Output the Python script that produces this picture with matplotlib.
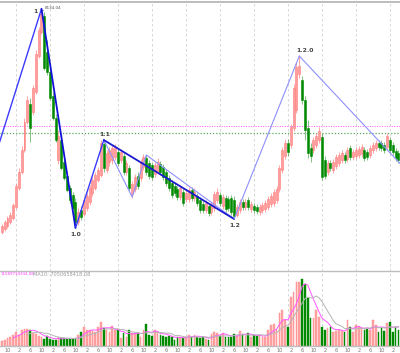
import numpy as np
import pandas as pd
import matplotlib
matplotlib.use("Agg")
import matplotlib.pyplot as plt

# =========================================================
# DONNÉES (mensuelles)
# =========================================================

DATES = pd.date_range("2006-08-01", periods=141, freq="MS")

OPEN = [1440, 1530, 1620, 1740, 1860, 2190, 2760, 3240, 3900, 4740,
        5280, 5040, 5640, 6720, 7440, 7920, 6840, 6240, 5520, 4860,
        3600, 4200, 3540, 3120, 2760, 2550, 2340, 1740, 2100, 1980,
        2160, 2340, 2610, 2760, 3000, 3150, 4080, 3300, 3540, 3600,
        3690, 3840, 3600, 3720, 3240, 3360, 2580, 2730, 3120, 3060,
        3390, 3660, 3510, 3450, 3180, 3270, 3480, 3390, 3240, 3060,
        2910, 2820, 2730, 2490, 2640, 2430, 2430, 2700, 2460, 2520,
        2400, 2280, 2100, 2220, 2040, 2160, 2400, 2550, 2220, 2460,
        2430, 2460, 2400, 1950, 2100, 2340, 2190, 2400, 2130, 2220,
        2190, 2040, 2100, 2130, 2190, 2280, 2310, 2400, 2730, 3300,
        3720, 4110, 4050, 4560, 5100, 6180, 6000, 5400, 4560, 3960,
        3900, 4050, 4200, 4290, 3600, 3240, 3510, 3300, 3420, 3510,
        3600, 3750, 3630, 3960, 3690, 3720, 3750, 3780, 3900, 3840,
        3750, 3900, 3960, 4110, 4110, 4050, 3990, 4200, 4050, 3870,
        3810]

CLOSE = [1620, 1740, 1860, 1950, 2250, 2820, 3240, 3900, 4740, 5400,
         4560, 5760, 6780, 7500, 7980, 6360, 6240, 5460, 4860, 4200,
         4320, 3360, 3060, 2700, 2400, 2160, 1740, 2040, 1890, 2400,
         2520, 2760, 3000, 3150, 3300, 4110, 3360, 3810, 3900, 3960,
         3990, 3510, 3840, 3240, 3510, 2760, 2880, 3090, 2820, 3540,
         3690, 3240, 3120, 3090, 3450, 3540, 3240, 3090, 2910, 2760,
         2550, 2610, 2490, 2760, 2310, 2610, 2700, 2460, 2640, 2310,
         2100, 2100, 2310, 2010, 2280, 2580, 2640, 2310, 2490, 2130,
         2160, 2040, 1920, 2190, 2340, 2190, 2340, 2190, 2280, 2100,
         2070, 2190, 2250, 2310, 2430, 2520, 2640, 2730, 3360, 3900,
         4110, 3840, 4590, 5760, 6390, 6420, 5400, 4500, 3810, 3720,
         4200, 4320, 4470, 3090, 3120, 3510, 3360, 3540, 3690, 3750,
         3810, 3600, 3900, 3690, 3840, 3900, 3930, 3990, 3660, 3690,
         3960, 4050, 4110, 3990, 3960, 3900, 4320, 3900, 3840, 3660,
         3600]

HIGH = [1680, 1800, 1920, 2040, 2310, 2910, 3360, 4020, 4860, 5520,
        5460, 5850, 6900, 7590, 8134.04, 8040, 7200, 6360, 5640, 4980,
        4500, 4320, 3660, 3240, 2850, 2640, 2460, 2160, 2220, 2490,
        2610, 2850, 3090, 3240, 3390, 4200, 4200, 3900, 3990, 4050,
        4080, 3930, 3930, 3810, 3600, 3450, 2970, 3180, 3240, 3630,
        3780, 3750, 3600, 3540, 3540, 3660, 3570, 3480, 3330, 3150,
        3000, 2910, 2820, 2850, 2730, 2700, 2790, 2790, 2760, 2610,
        2490, 2370, 2400, 2310, 2370, 2670, 2760, 2640, 2580, 2550,
        2520, 2550, 2520, 2280, 2430, 2430, 2430, 2490, 2370, 2310,
        2280, 2280, 2340, 2400, 2520, 2610, 2730, 2820, 3450, 3990,
        4230, 4230, 4680, 5880, 6540, 6720, 6120, 5520, 4800, 4110,
        4290, 4410, 4590, 4410, 3720, 3600, 3600, 3630, 3780, 3840,
        3900, 3840, 3990, 4050, 3930, 3990, 4020, 4080, 3990, 3930,
        4050, 4140, 4200, 4200, 4200, 4140, 4410, 4290, 4140, 3960,
        3900]

LOW = [1380, 1470, 1560, 1680, 1800, 2130, 2700, 3180, 3840, 4680,
       4140, 4950, 5580, 6660, 7380, 6300, 6150, 5400, 4800, 4140,
       3480, 3300, 3000, 2640, 2310, 2100, 1560, 1650, 1800, 1920,
       2070, 2250, 2520, 2700, 2940, 3090, 3240, 3210, 3420, 3480,
       3600, 3420, 3510, 3150, 3150, 2670, 2460, 2640, 2730, 2970,
       3300, 3150, 3030, 3000, 3090, 3180, 3150, 3000, 2820, 2670,
       2460, 2520, 2400, 2400, 2220, 2340, 2340, 2370, 2370, 2220,
       2010, 2010, 2010, 1920, 1950, 2070, 2310, 2220, 2130, 2040,
       2070, 1950, 1830, 1890, 2010, 2100, 2100, 2100, 2040, 2010,
       1980, 1950, 2010, 2040, 2100, 2190, 2220, 2310, 2640, 3210,
       3630, 3720, 3960, 4470, 5010, 6060, 5280, 4200, 3660, 3540,
       3810, 3960, 4110, 3000, 3030, 3150, 3270, 3210, 3330, 3420,
       3510, 3510, 3540, 3600, 3600, 3630, 3660, 3690, 3570, 3600,
       3660, 3810, 3870, 3900, 3870, 3810, 3900, 3810, 3750, 3570,
       3510]

# volume en centaines de millions
VOLUME = [15, 18, 24, 27, 33, 42, 33, 48, 51, 51,
          48, 39, 36, 30, 27, 21, 30, 21, 18, 18,
          27, 24, 24, 21, 21, 21, 24, 33, 42, 57,
          48, 48, 45, 42, 57, 72, 54, 48, 42, 60,
          48, 48, 24, 39, 27, 48, 39, 36, 39, 27,
          48, 66, 33, 30, 48, 42, 33, 30, 27, 30,
          27, 18, 27, 27, 24, 27, 33, 27, 33, 27,
          24, 27, 21, 18, 36, 42, 39, 30, 39, 27,
          27, 27, 36, 30, 45, 36, 30, 39, 27, 33,
          30, 33, 27, 27, 48, 63, 66, 48, 99, 108,
          78, 57, 147, 162, 192, 192, 201, 186, 144, 84,
          84, 108, 87, 57, 48, 54, 57, 42, 45, 48,
          45, 42, 78, 57, 42, 63, 57, 54, 48, 51,
          48, 78, 63, 42, 54, 45, 69, 72, 42, 57,
          48]

# Vagues (index du mois, prix)
WAVE_MAIN_IDX = [-10, 14, 26, 36, 82, 105, 150]
WAVE_MAIN_PRICE = [1650, 8134.04, 1560, 4200, 1830, 6720, 2640]
WAVE_SUB_IDX = [36, 46, 51, 82]
WAVE_SUB_PRICE = [4200, 2490, 3750, 1830]

WAVE_LABELS = ["1", "1.0", "1.1", "1.2", "1.2.0"]
WAVE_LABEL_IDX = [14, 26, 36, 82, 105]
WAVE_LABEL_PRICE = [8134.04, 1560, 4200, 1830, 6720]

LEVEL_MAGENTA = 4620
LEVEL_GREEN = 4410

MA5_TEXT = "11589734344.08"
MA10_TEXT = "MA10: 7050658418.08"

# =========================================================
# FIGURE
# =========================================================

UP_FILL = "#ff9d9d"
UP_EDGE = "#ff7b7b"
DN_FILL = "#008a00"
GRID = "#d0d0d0"

o = np.array(OPEN, dtype=float)
c = np.array(CLOSE, dtype=float)
h = np.array(HIGH, dtype=float)
l = np.array(LOW, dtype=float)
vol = np.array(VOLUME, dtype=float) * 1e8
idx = np.arange(len(o))
up = c >= o

fig = plt.figure(figsize=(4, 3.53), dpi=100)
ax = fig.add_axes([0, 1 - 271 / 353, 1, 269 / 353])
axv = fig.add_axes([0, 1 - 346 / 353, 1, 75 / 353])

xlim = (-0.646, 140.55)
for a in (ax, axv):
    a.set_xlim(*xlim)
    for s in a.spines.values():
        s.set_visible(False)
    a.set_yticks([])

# grille annuelle (janvier)
jan = idx[DATES.month == 1]
for a in (ax, axv):
    for j in jan:
        a.axvline(j, color=GRID, lw=0.6, ls=(0, (3, 3)), zorder=0)

# niveaux horizontaux
ax.axhline(LEVEL_MAGENTA, color="#ff55ff", lw=0.7, ls=(0, (1, 1.5)), zorder=1)
ax.axhline(LEVEL_GREEN, color="#5fa85f", lw=0.9, ls=(0, (1, 1.5)), zorder=1)

# chandeliers
ax.vlines(idx[up], l[up], h[up], color=UP_EDGE, lw=0.6, alpha=0.8, zorder=2)
ax.vlines(idx[~up], l[~up], h[~up], color="#4aa84a", lw=0.6, alpha=0.8, zorder=2)
body_bot = np.minimum(o, c)
body_h = np.maximum(np.abs(c - o), 20)
ax.bar(idx[up], body_h[up], bottom=body_bot[up], width=0.7,
       color=UP_FILL, edgecolor=UP_EDGE, lw=0.4, zorder=3)
ax.bar(idx[~up], body_h[~up], bottom=body_bot[~up], width=0.7,
       color=DN_FILL, edgecolor=DN_FILL, lw=0.4, zorder=3)

# vagues
seg_styles = [("#3a3aff", 1.0), ("#1010d8", 1.3), ("#3a3aff", 1.0),
              ("#1a1ad0", 1.3), ("#8f8fff", 0.8), ("#8f8fff", 0.8)]
for k, (col, lw) in enumerate(seg_styles):
    ax.plot(WAVE_MAIN_IDX[k:k + 2], WAVE_MAIN_PRICE[k:k + 2],
            color=col, lw=lw, zorder=5, solid_capstyle="round")
ax.plot(WAVE_SUB_IDX, WAVE_SUB_PRICE, color="#8f8fff", lw=0.8, zorder=4)

offsets = [(-6.5, -2.5), (0, -7), (1, 6), (1, -6.5), (6, 5.5)]
for lab, xi, yi, off in zip(WAVE_LABELS, WAVE_LABEL_IDX, WAVE_LABEL_PRICE, offsets):
    ax.annotate(lab, (xi, yi), xytext=off, textcoords="offset pixels",
                ha="center", va="center", fontsize=4.4, color="#444444",
                fontweight="bold", zorder=6)

ax.annotate(f"{WAVE_MAIN_PRICE[1]:.2f}", (WAVE_MAIN_IDX[1], WAVE_MAIN_PRICE[1]),
            xytext=(3, 1), textcoords="offset pixels", ha="left", va="center",
            fontsize=3.0, color="#555555", zorder=6)
ax.plot([WAVE_MAIN_IDX[1] + 0.1, WAVE_MAIN_IDX[1] + 0.6],
        [WAVE_MAIN_PRICE[1] - 30, WAVE_MAIN_PRICE[1] - 30], color="#555555", lw=0.5)

ax.set_ylim(270, 8340)
ax.set_xticks([])
ax.spines["top"].set_visible(True)
ax.spines["top"].set_color("#bdbdbd")
ax.spines["top"].set_linewidth(1.4)

# volume
axv.bar(idx[up], vol[up], width=0.6, color="#ffa4a4", edgecolor="#ff8a8a", lw=0.3, zorder=2)
axv.bar(idx[~up], vol[~up], width=0.6, color=DN_FILL, edgecolor=DN_FILL, lw=0.3, zorder=2)
vs = pd.Series(vol)
axv.plot(idx, vs.rolling(5).mean(), color="#ff55ff", lw=0.7, zorder=3)
axv.plot(idx, vs.rolling(10).mean(), color="#b5b5b5", lw=0.7, zorder=3)
axv.set_ylim(0, 2.25e10)

axv.text(1 / 400, 0.955, MA5_TEXT, transform=axv.transAxes, ha="left", va="center",
         fontsize=2.9, color="#ff44ff")
axv.text(33 / 400, 0.955, MA10_TEXT, transform=axv.transAxes, ha="left", va="center",
         fontsize=3.6, color="#999999")

for sp in ("top", "bottom"):
    axv.spines[sp].set_visible(True)
    axv.spines[sp].set_color("#bdbdbd")
    axv.spines[sp].set_linewidth(1.0)

tick_idx = idx[np.isin(DATES.month, [2, 6, 10])]
axv.set_xticks(tick_idx)
axv.set_xticklabels([str(m) for m in DATES.month[tick_idx]])
axv.tick_params(axis="x", length=0, pad=1.2, labelsize=3.6, labelcolor="#777777")

fig.savefig("out.png", dpi=100)
